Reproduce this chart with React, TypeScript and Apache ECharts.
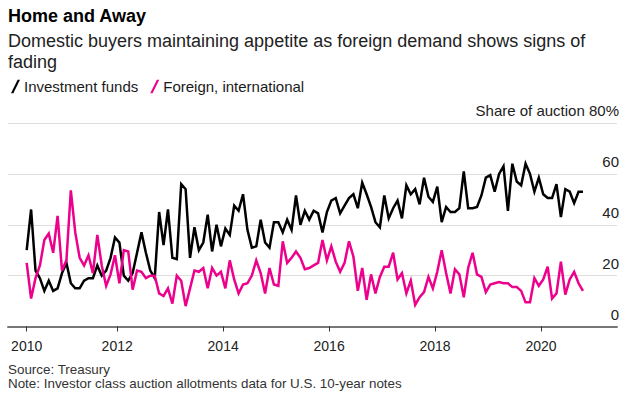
import React, { useEffect, useRef } from "react";
import * as echarts from "echarts";

// Monthly 10-year note auctions, first auction month April 2010
const START_YEAR = 2010;
const START_MONTH = 4;

const seriesNames = ["Investment funds", "Foreign, international"];

const investmentFunds = [
  30, 46, 22, 19, 14, 18, 14, 15, 21, 25, 17, 15, 15, 18, 19, 19, 24, 20, 22, 27,
  35, 33, 20, 18, 21, 29, 37, 29, 22, 19, 45, 32, 46, 27, 26.5, 56, 54, 27, 39, 30,
  33, 44, 29.5, 40, 31.5, 38.5, 36, 47.5, 45.5, 52, 38, 31, 31.5, 42, 33, 31, 41, 41, 37, 42,
  38, 51.5, 40, 45.5, 42, 45.5, 44.5, 37, 45, 49.5, 50.5, 44.5, 47.5, 50.5, 52, 46.5, 56.5, 52, 47, 41,
  39, 51.5, 42.5, 46.5, 49.5, 42.5, 55.5, 52, 54, 48, 58.5, 51, 49, 55, 41, 47, 45, 45, 46.5, 61,
  46.5, 46.5, 47, 51.5, 58.5, 59.5, 53, 60, 63, 45.5, 64, 57, 55.5, 64, 60, 53, 58.5, 52, 50.5, 50.5,
  56, 43, 54, 53, 48.5, 53, 53,
];

const foreignIntl = [
  25, 11, 19, 24, 34, 36.5, 29, 43.5, 22, 26, 53.5, 37, 27, 24, 28, 21, 36, 24, 16, 20.5,
  28, 17, 30, 29.5, 14.5, 22, 21.5, 19, 20, 20, 13, 12, 15, 9, 20, 18, 8, 15, 22, 21.5,
  23, 15, 23, 20, 21.5, 15, 26, 18.5, 13, 16.5, 17, 20, 26, 21, 13, 23, 16.5, 16, 33.5, 25,
  27, 29.5, 27, 22.5, 23, 24, 25, 34, 26, 31.5, 25.5, 21.5, 25, 33.5, 27.5, 14, 23, 10.5, 20.5, 13,
  19.5, 23.5, 23.5, 29, 18.5, 21, 13, 18, 8.5, 11.5, 13.5, 19.5, 15, 21.5, 30, 21, 13, 22.5, 20.5, 11.5,
  23, 29, 20.5, 19.5, 13.5, 16.5, 17, 17.5, 17, 17, 15.5, 15.5, 14, 9.5, 9.5, 19, 16, 18.5, 23.5, 11,
  13, 25.5, 12.5, 18.5, 21.5, 17, 14,
];

const yearTicks = [2012, 2014, 2016, 2018, 2020];
const yTicks = [0, 20, 40, 60, 80];

const titleText = "Home and Away";
const subtitleText = "Domestic buyers maintaining appetite as foreign demand shows signs of\nfading";
const sourceText = "Source: Treasury";
const noteText = "Note: Investor class auction allotments data for U.S. 10-year notes";

const FONT = "'Liberation Sans', Arial, Helvetica, sans-serif";

function toYear(i: number) {
  return START_YEAR + (START_MONTH - 1 + 0.5 + i) / 12;
}

export default function App() {
  const ref = useRef<HTMLDivElement>(null);
  useEffect(() => {
    if (!ref.current) return;
    const chart = echarts.init(ref.current, null, { renderer: "svg" });
    const firstX = toYear(0);
    const slash = "path://M7,0 L9.5,0 L2.5,14 L0,14 Z";
    chart.setOption({
      animation: false,
      backgroundColor: "#ffffff",
      textStyle: { fontFamily: FONT },
      grid: { left: 8, right: 14, top: 123, bottom: 69.5 },
      legend: {
        left: 6,
        top: 74,
        itemWidth: 9,
        itemHeight: 14,
        itemGap: 12,
        icon: slash,
        textStyle: { fontSize: 15, color: "#1a1a1a", fontFamily: FONT, padding: [0, 0, 0, -1] },
        data: seriesNames,
      },
      xAxis: {
        type: "value",
        min: 2009.939,
        max: 2021.434,
        splitLine: { show: false },
        axisLine: { show: true, lineStyle: { color: "#777777", width: 2 } },
        axisTick: {
          show: true,
          length: 5,
          lineStyle: { color: "#333333", width: 1 },
          customValues: [firstX, ...yearTicks],
        },
        axisLabel: {
          customValues: [firstX, ...yearTicks],
          formatter: (v: number) => String(Math.round(v)),
          fontSize: 14,
          color: "#222222",
          margin: 12,
          fontFamily: FONT,
        },
      },
      yAxis: {
        type: "value",
        position: "right",
        min: 0,
        max: 80,
        interval: 20,
        axisLine: { show: false },
        axisTick: { show: false },
        splitLine: { show: true, lineStyle: { color: "#dddddd", width: 1 } },
        axisLabel: {
          inside: true,
          margin: -2,
          fontSize: 15,
          color: "#222222",
          verticalAlign: "bottom",
          padding: [0, 0, 5, 0],
          fontFamily: FONT,
          formatter: (v: number) => (v === yTicks[yTicks.length - 1] ? "Share of auction " + v + "%" : String(v)),
        },
      },
      series: [
        {
          name: seriesNames[0],
          type: "line",
          data: investmentFunds.map((v, i) => [toYear(i), v]),
          showSymbol: false,
          symbol: "none",
          lineStyle: { color: "#000000", width: 2.5, join: "miter" },
          itemStyle: { color: "#000000" },
        },
        {
          name: seriesNames[1],
          type: "line",
          data: foreignIntl.map((v, i) => [toYear(i), v]),
          showSymbol: false,
          symbol: "none",
          lineStyle: { color: "#ec008c", width: 2.5, join: "miter" },
          itemStyle: { color: "#ec008c" },
        },
      ],
      graphic: [
        {
          type: "text",
          left: 8,
          top: 7,
          style: { text: titleText, font: "bold 18px " + FONT, fill: "#000000" },
        },
        {
          type: "text",
          left: 8,
          top: 30,
          style: { text: subtitleText, font: "18px " + FONT, fill: "#222222", lineHeight: 21 },
        },
        {
          type: "text",
          left: 8,
          top: 363,
          style: { text: sourceText + "\n" + noteText, font: "13.4px " + FONT, fill: "#333333", lineHeight: 13.5 },
        },
      ],
    });
    return () => chart.dispose();
  }, []);
  return (
    <div
      ref={ref}
      style={{ position: "fixed", left: 0, top: 0, width: 631, height: 396 }}
    />
  );
}
